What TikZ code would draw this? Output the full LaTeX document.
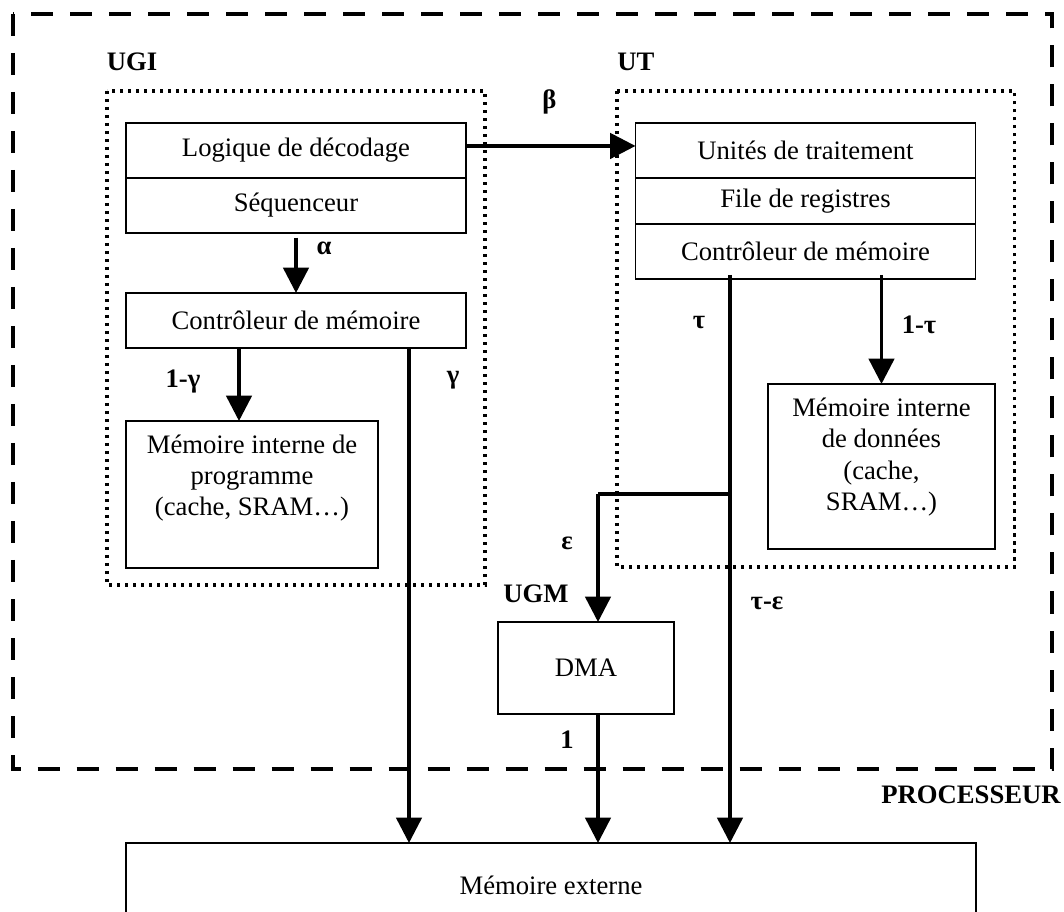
\documentclass[tikz,border=0pt]{standalone}
\usepackage{fontspec}
\setmainfont{Liberation Serif}
\usetikzlibrary{arrows.meta,calc}
\begin{document}
\begin{tikzpicture}[x=0.75pt,y=-0.75pt,
  txt/.style={font=\fontsize{20}{23.5}\selectfont},
  box/.style={draw, line width=1.4pt, inner sep=0pt, outer sep=0pt, txt, align=center},
  lbl/.style={font=\fontsize{20}{23.5}\selectfont\bfseries, inner sep=0pt},
  arr/.style={line width=2.6pt, -{Triangle[length=19pt,width=19pt]}},
  wire/.style={line width=2.6pt},
  dotbox/.style={line width=2.5pt, dash pattern=on 2.6pt off 3.4pt},
  procbox/.style={line width=3pt, dash pattern=on 16.5pt off 12.75pt}]
\useasboundingbox (0,0) rectangle (1064,912);
\clip (0,0) rectangle (1064,912);

% outer processor frame and groups
\draw[procbox] (12.5,14) rectangle (1052,769);
\draw[dotbox] (107,91) rectangle (485,585);
\draw[dotbox] (617,91) rectangle (1014.5,567);

% UGI
\node[box, minimum width=255pt, minimum height=41.25pt] (logique) at (296,150.5) {Logique de décodage};
\node[box, minimum width=255pt, minimum height=41.25pt] (seq) at (296,205.5) {Séquenceur};
\node[box, minimum width=255pt, minimum height=41.25pt] (ctrlA) at (296,320.5) {Contrôleur de mémoire};
\node[box, minimum width=189pt, minimum height=110.25pt] (memprog) at (252,494.5) {};
\node[txt, align=center] (memprogtxt) at (252,478) {Mémoire interne de\\programme\\(cache, SRAM…)};

% UT
\node[box, minimum width=255pt, minimum height=41.25pt] (unites) at (805.5,150.5) {Unités de traitement};
\node[box, minimum width=255pt, minimum height=34.5pt] (file) at (805.5,201) {File de registres};
\node[box, minimum width=255pt, minimum height=41.25pt] (ctrlB) at (805.5,251.5) {Contrôleur de mémoire};
\node[box, minimum width=170.25pt, minimum height=123.75pt] (memdon) at (881.5,466.5) {};
\node[txt, align=center] (memdontxt) at (881.5,457) {Mémoire interne\\de données\\(cache,\\SRAM…)};

% UGM
\node[box, minimum width=132pt, minimum height=69pt] (dma) at (586,668) {DMA};

% external memory
\node[box, minimum width=637.5pt, minimum height=63pt] (memext) at (551,885) {Mémoire externe};

% helper coordinates
\coordinate (xg1) at (239,0);
\coordinate (xg) at (409,0);
\coordinate (xt) at (730,0);
\coordinate (xd) at (598,0);
\coordinate (br) at (730,494);

% connectors
\draw[arr] ([yshift=3.4pt]logique.east) -- ([yshift=3.4pt]unites.west);
\draw[arr] ([yshift=-3.5pt]seq.south) -- (ctrlA.north);
\draw[arr] (ctrlA.south -| xg1) -- (memprog.north -| xg1);
\draw[arr] (ctrlA.south -| xg) -- (memext.north -| xg);
\draw[arr] ([yshift=3pt]ctrlB.south -| xt) -- (memext.north -| xt);
\draw[arr] ([yshift=3pt]ctrlB.south -| memdon.north) -- (memdon.north);
\draw[wire] (br) -- (br -| xd);
\draw[arr] (br -| xd) -- (dma.north -| xd);
\draw[arr] (dma.south -| xd) -- (memext.north -| xd);

% labels
\node[lbl] (lugi) at (132,62) {UGI};
\node[lbl] (lut) at (636,62) {UT};
\node[lbl] (lugm) at (536,594) {UGM};
\node[lbl] (lproc) at (971,795) {PROCESSEUR};
\node[lbl] (lbeta) at (549.5,102) {β};
\node[lbl] (lalpha) at (324,248) {α};
\node[lbl] (l1g) at (183,382) {1-γ};
\node[lbl] (lg) at (453,380) {γ};
\node[lbl] (ltau) at (699,323) {τ};
\node[lbl] (l1t) at (919,325) {1-τ};
\node[lbl] (leps) at (567,543) {ε};
\node[lbl] (lte) at (767,603) {τ-ε};
\node[lbl] (lone) at (567,740) {1};
\end{tikzpicture}
\end{document}
